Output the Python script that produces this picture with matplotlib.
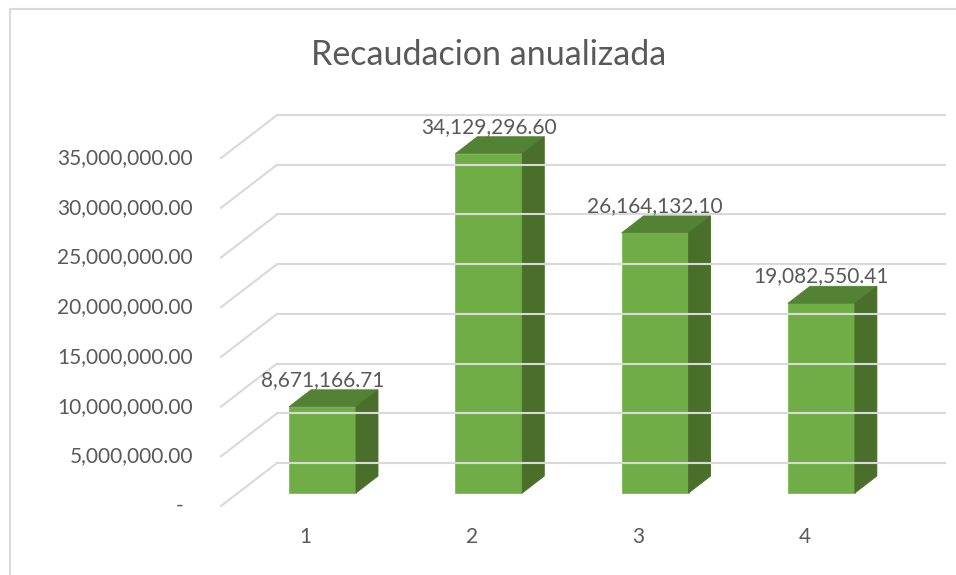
import numpy as np
import matplotlib
matplotlib.use("Agg")
from matplotlib import pyplot as plt
from matplotlib.patches import Polygon, Rectangle
from matplotlib.lines import Line2D

# data
categories = ["1", "2", "3", "4"]
values = [8671166.71, 34129296.60, 26164132.10, 19082550.41]
ticks = [0, 5e6, 10e6, 15e6, 20e6, 25e6, 30e6, 35e6]
title = "Recaudacion anualizada"

plt.rcParams['font.family'] = ['Lato', 'DejaVu Sans']
txt = '#595959'
grid = '#d9d9d9'
fs = 15

W, H = 956, 575
fig = plt.figure(figsize=(W / 100, H / 100), dpi=100)
ax = fig.add_axes([0, 0, 1, 1])
ax.axis('off')

# pixel layout of the fake 3d scene
x0px, xstep = 305.5, 166.3      # front-edge centre of category 1, spacing
y0px, yscale = 506, 9.94e-6     # front-edge baseline (from top), px per unit
ax.set_xlim(1 - x0px / xstep, 1 + (W - x0px) / xstep)
ax.set_ylim(-(H - y0px) / yscale, y0px / yscale)

def dx(p):
    return p / xstep

def dy(p):
    return p / yscale

bf = (dx(17), dy(13))   # bar front offset
bb = (dx(39), dy(30))   # bar back offset
wall = (dx(56), dy(43)) # back wall offset
left = 1 + (221 - x0px) / xstep
right = 1 + (945 - x0px) / xstep
bw = 67 / xstep

# gridlines: floor diagonal + back wall
for t in ticks:
    ax.plot([left, left + wall[0]], [t, t + wall[1]], color=grid, lw=1.5)
    ax.plot([left + wall[0], right], [t + wall[1], t + wall[1]], color=grid, lw=1.5)
    lab = "-" if t == 0 else f"{t:,.2f}"
    ax.text(1 + (193 - x0px) / xstep - (dx(10) if t == 0 else 0), t, lab,
            ha='right', va='center', color=txt, fontsize=fs)

front_c = '#70ad47'
top_c = '#548235'
side_c = '#4a6f2a'
for i, v in enumerate(values):
    c = i + 1
    xl = c - bw / 2 + bf[0]
    xr = c + bw / 2 + bf[0]
    ax.add_patch(Rectangle((xl, bf[1]), bw, v, facecolor=front_c, edgecolor='#7dbb52', lw=0.6))
    ax.add_patch(Polygon([(xl, bf[1] + v), (xr, bf[1] + v),
                          (c + bw / 2 + bb[0], bb[1] + v), (c - bw / 2 + bb[0], bb[1] + v)],
                         facecolor=top_c, edgecolor=top_c, lw=0.6))
    ax.add_patch(Polygon([(xr, bf[1]), (c + bw / 2 + bb[0], bb[1]),
                          (c + bw / 2 + bb[0], bb[1] + v), (xr, bf[1] + v)],
                         facecolor=side_c, edgecolor=side_c, lw=0.6))
    ax.text(c + bf[0], v + bb[1] + dy(10), f"{v:,.2f}", ha='center', va='center',
            color=txt, fontsize=fs)
    ax.text(c, -dy(31), categories[i], ha='center', va='center', color=txt, fontsize=fs)

ax.text(1 + (489 - x0px) / xstep, dy(y0px - 55), title, ha='center', va='center',
        color=txt, fontsize=24.5)

# chart area border
fig.add_artist(Line2D([10 / W, 10 / W, 1], [0, 1 - 9 / H, 1 - 9 / H],
                      transform=fig.transFigure, color=grid, lw=1.5))

fig.savefig("out.png", dpi=100)
